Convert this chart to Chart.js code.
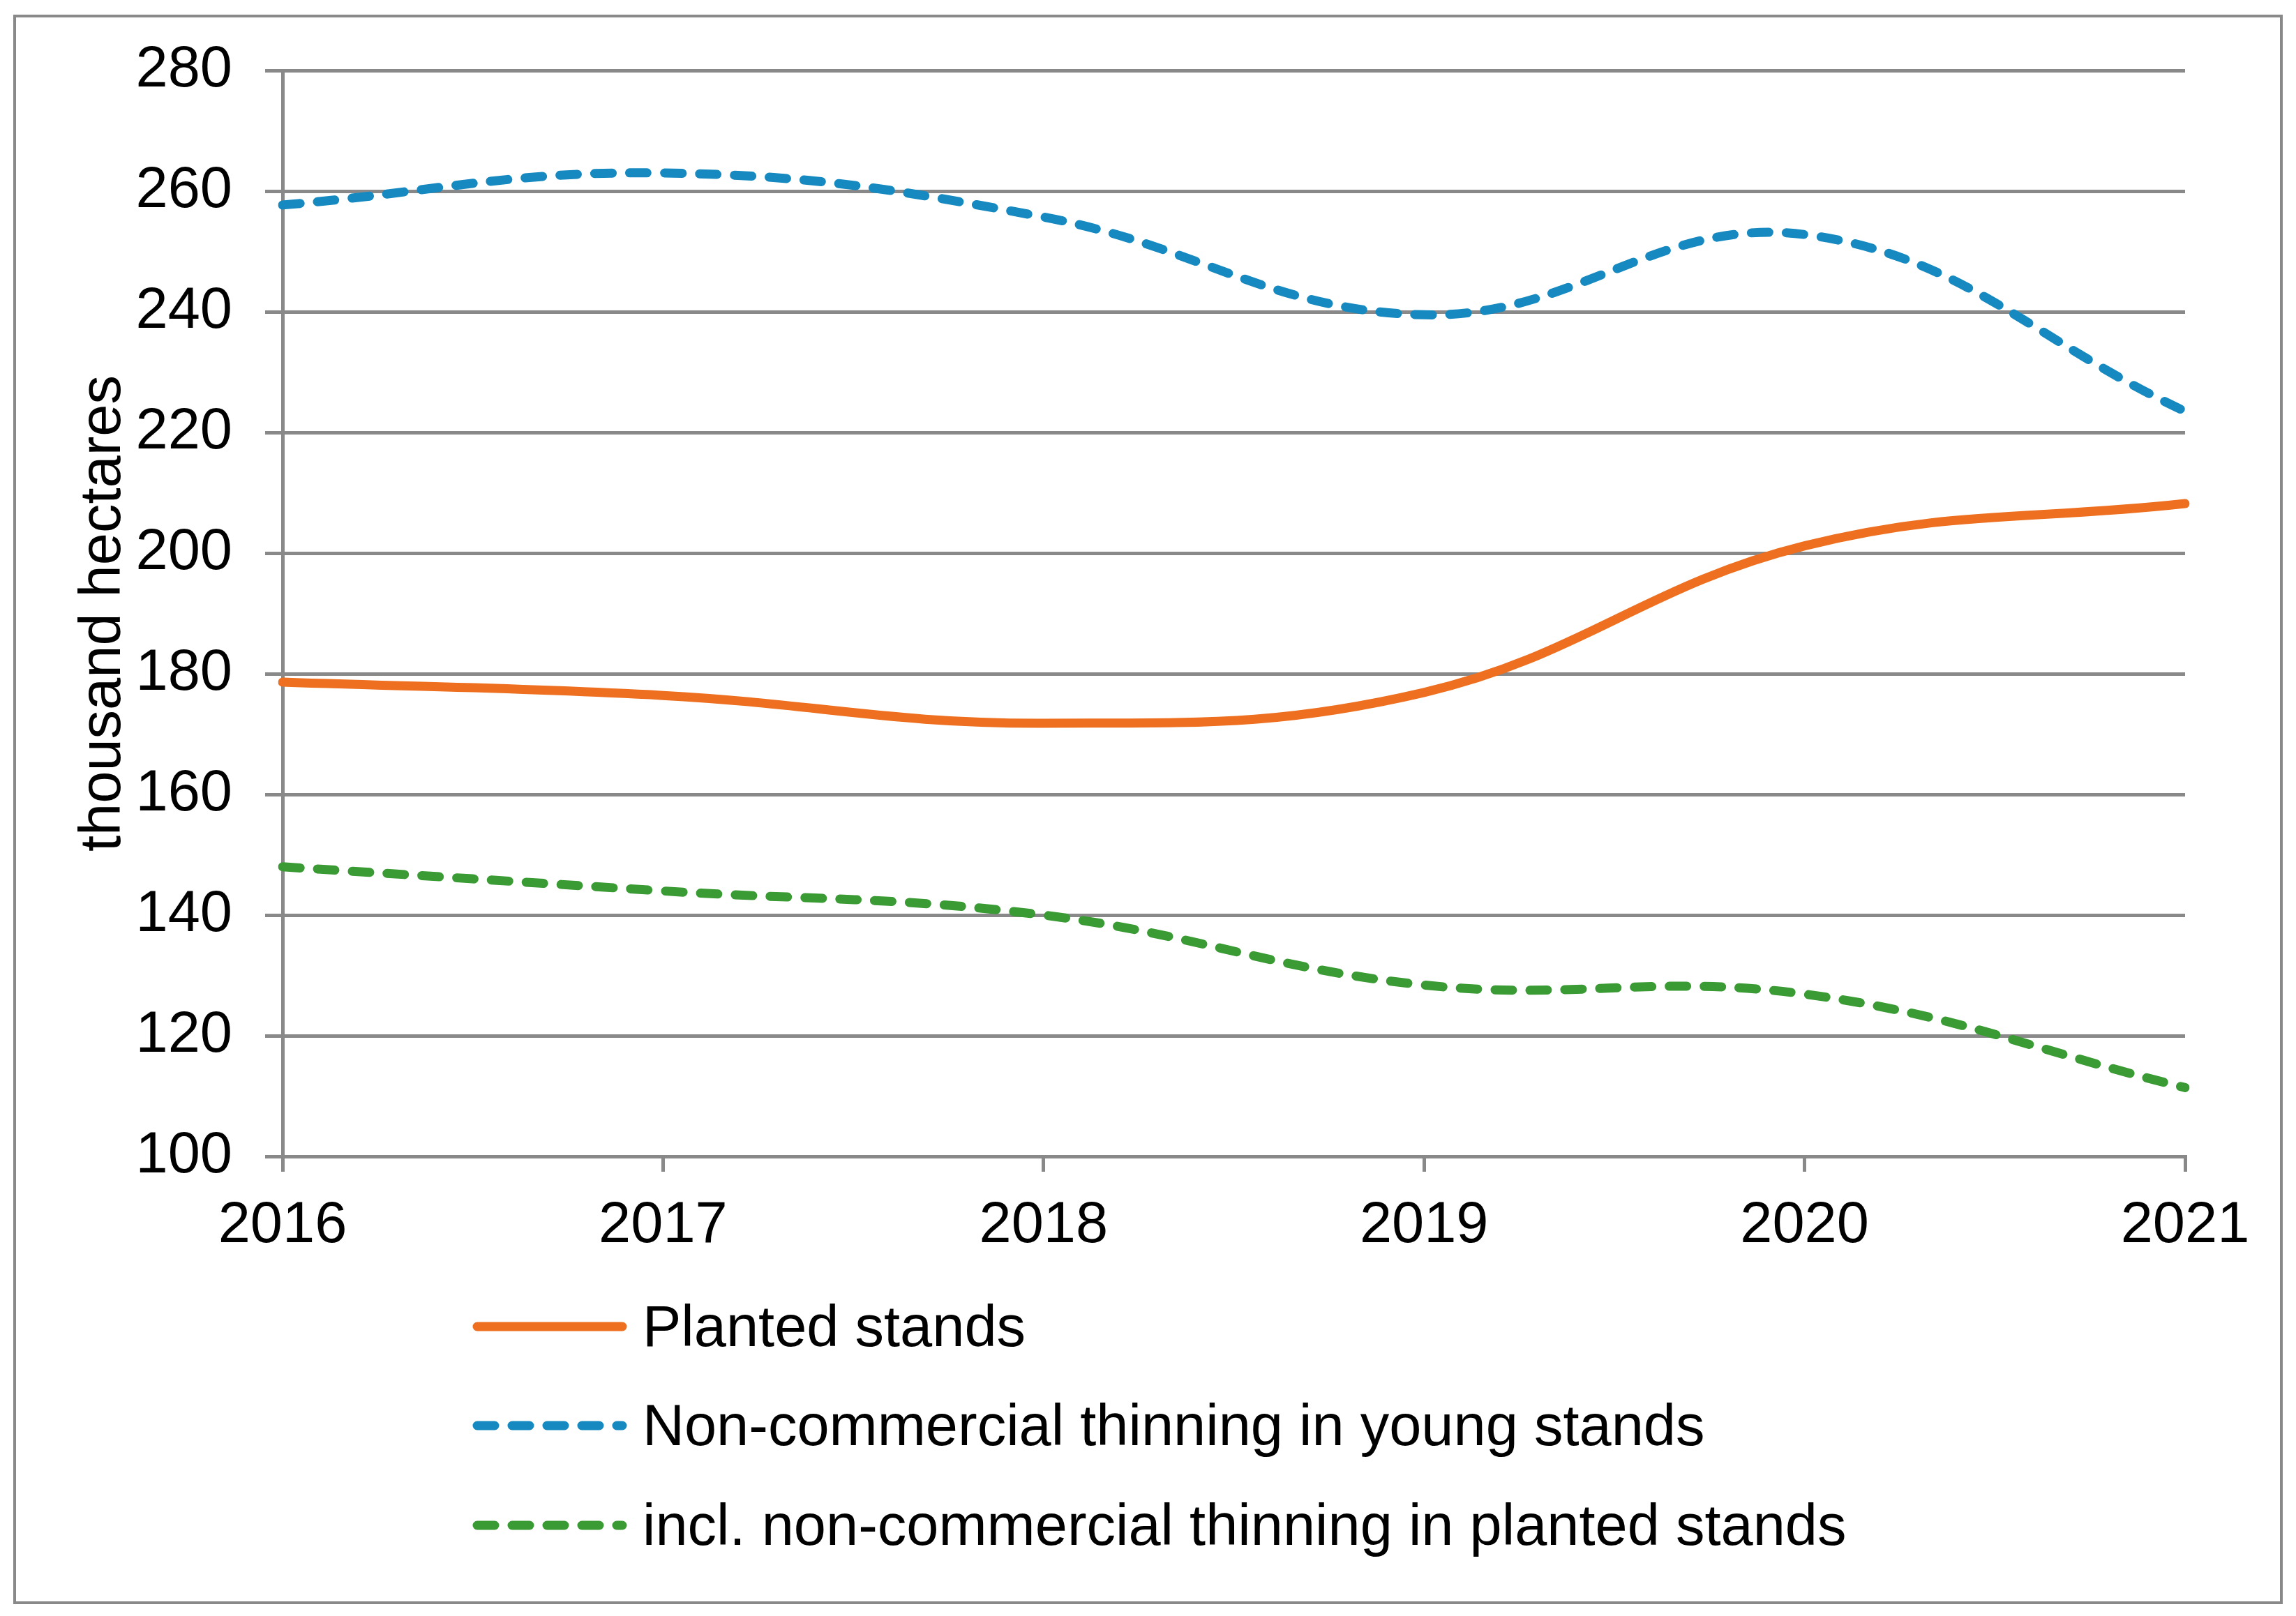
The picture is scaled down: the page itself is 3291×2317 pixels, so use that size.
<!DOCTYPE html>
<html>
<head>
<meta charset="utf-8">
<script src="https://cdn.jsdelivr.net/npm/chart.js@4.4.1/dist/chart.umd.min.js"></script>
<style>
  html, body { margin: 0; padding: 0; background: #fff; }
  body { width: 3291px; height: 2317px; position: relative; overflow: hidden; font-family: "Liberation Sans", Arial, sans-serif; }
  #frame { position: absolute; left: 19px; top: 21px; width: 3253px; height: 2279px; border: 4px solid #898989; box-sizing: border-box; }
  #chart { position: absolute; left: 0; top: 0; }
  .legend { position: absolute; left: 677px; top: 0; }
  .legend-row { position: absolute; left: 0; height: 100px; display: flex; align-items: center; white-space: nowrap; }
  .legend-row svg { width: 222px; height: 24px; margin-right: 22px; }
  .legend-row span { font-size: 83px; color: #000; line-height: 100px; }
</style>
</head>
<body>
<div id="frame"></div>
<canvas id="chart" width="3291" height="2317"></canvas>
<div class="legend" id="legend"></div>
<script>
// 数据
const years = ['2016', '2017', '2018', '2019', '2020', '2021'];
const planted = [178.6, 176.4, 171.8, 176.9, 201.2, 208.2];
const thinningYoung = [257.7, 263.0, 255.7, 239.5, 252.8, 223.5];
const thinningPlanted = [148.0, 144.0, 140.0, 128.4, 126.9, 111.4];

const seriesNames = ['Planted stands', 'Non-commercial thinning in young stands', 'incl. non-commercial thinning in planted stands'];
const seriesColors = ['#ED6F1F', '#1589C0', '#3A9A33'];
const yTicks = { min: 100, max: 280, step: 20 };

const GRID = '#898989';
const FONT = { family: '"Liberation Sans", Arial, sans-serif', size: 83 };

function lineSet(label, data, color, dashed) {
  return {
    label, data,
    borderColor: color,
    backgroundColor: color,
    borderWidth: 13,
    borderDash: dashed ? [25, 25] : [],
    borderCapStyle: 'round',
    borderJoinStyle: 'round',
    pointRadius: 0,
    tension: 0.4,
    fill: false,
  };
}

const ctx = document.getElementById('chart').getContext('2d');
new Chart(ctx, {
  type: 'line',
  data: {
    labels: years,
    datasets: [
      lineSet(seriesNames[0], planted, seriesColors[0], false),
      lineSet(seriesNames[1], thinningYoung, seriesColors[1], true),
      lineSet(seriesNames[2], thinningPlanted, seriesColors[2], true),
    ]
  },
  options: {
    responsive: false,
    devicePixelRatio: 1,
    animation: false,
    layout: { padding: { left: 0, right: 159, top: 101, bottom: 0 } },
    plugins: { legend: { display: false }, tooltip: { enabled: false } },
    scales: {
      x: {
        offset: false,
        grid: { display: true, drawOnChartArea: false, drawTicks: true, tickLength: 22, color: GRID, lineWidth: 5 },
        border: { display: true, color: GRID, width: 5 },
        ticks: { color: '#000', font: FONT, padding: 28, maxRotation: 0, autoSkip: false },
        afterFit: s => { s.height = 659; }
      },
      y: {
        min: yTicks.min, max: yTicks.max,
        grid: { color: GRID, lineWidth: 5, drawTicks: true, tickLength: 25 },
        border: { display: true, color: GRID, width: 5 },
        ticks: { stepSize: yTicks.step, color: '#000', font: FONT, padding: 47 },
        title: { display: true, text: 'thousand hectares', color: '#000', font: FONT, padding: { top: 99, bottom: 0 } },
        afterFit: s => { s.width = 405; }
      }
    }
  }
});

// 图例
const legendRows = [1902, 2044, 2187];
document.getElementById('legend').innerHTML = seriesNames.map((name, i) => `
  <div class="legend-row" style="top:${legendRows[i] - 50}px">
    <svg viewBox="0 0 222 24"><line x1="7" y1="12" x2="215" y2="12" stroke="${seriesColors[i]}" stroke-width="13" stroke-linecap="round" ${i ? 'stroke-dasharray="25 25"' : ''}/></svg>
    <span>${name}</span>
  </div>
`).join('');
</script>
</body>
</html>
